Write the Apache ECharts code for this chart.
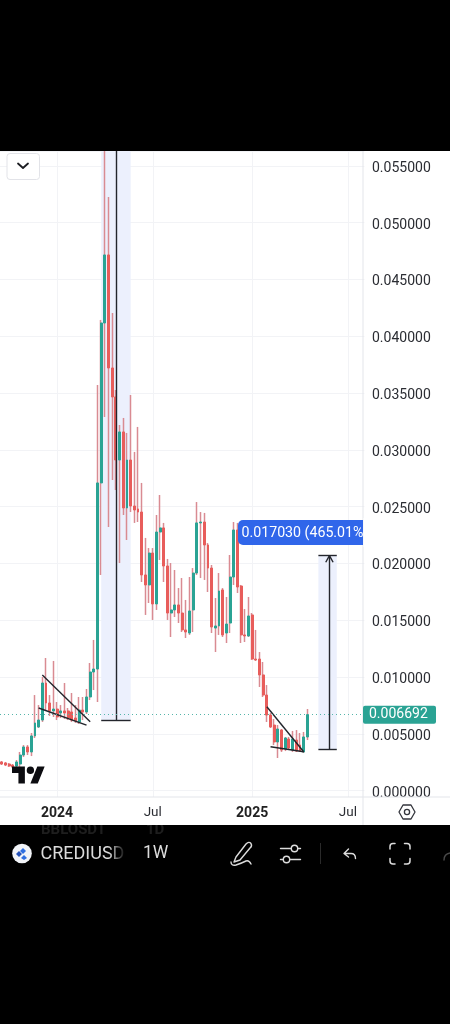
<!DOCTYPE html>
<html>
<head>
<meta charset="utf-8">
<style>
html,body{margin:0;padding:0;background:#000;}
#chart{width:450px;height:1024px;}
</style>
<script src="https://cdn.jsdelivr.net/npm/echarts@6/dist/echarts.min.js"></script>
</head>
<body>
<div id="chart"></div>
<script>
// CREDIUSD weekly candles, first bar 2023-09-18
const opens = [.00253,.00244,.00235,.00226,.00217,.00235,.00314,.00385,.00341,.00482,.00561,.00622,.00948,.00772,.00702,.00719,.00684,.00702,.00702,.00693,.00640,.00605,.00710,.00693,.00825,.01045,.01071,.02709,.04117,.04716,.03721,.03466,.02911,.03158,.02489,.02911,.02506,.02480,.02453,.01899,.01811,.02092,.01644,.02277,.02313,.01978,.01564,.01591,.01635,.01564,.01415,.01388,.01591,.01916,.02357,.02365,.02163,.01960,.01432,.01450,.01767,.01388,.01476,.01881,.02295,.01802,.01371,.01362,.01547,.01159,.01159,.01019,.00842,.00666,.00578,.00429,.00534,.00367,.00455,.00358,.00446,.00402,.00341,.00473];
const closes = [.00235,.00226,.00217,.00209,.00253,.00314,.00385,.00341,.00482,.00596,.00622,.00948,.00772,.00702,.00719,.00649,.00702,.00684,.00640,.00622,.00614,.00710,.00693,.00825,.01045,.01071,.02709,.04117,.04716,.03721,.03466,.02911,.03158,.02489,.02911,.02506,.02471,.02453,.01899,.01811,.02092,.01644,.02277,.02313,.01978,.01564,.01591,.01635,.01564,.01415,.01397,.01582,.01916,.02357,.02365,.02163,.01960,.01441,.01450,.01758,.01371,.01467,.01881,.02295,.01793,.01371,.01362,.01538,.01159,.01151,.01019,.00842,.00666,.00561,.00429,.00543,.00358,.00464,.00376,.00455,.00349,.00349,.00473,.006692];
const highs = [.00261,.00253,.00244,.00235,.00270,.00341,.00402,.00402,.00508,.00842,.00754,.01001,.01168,.00842,.01142,.00781,.00754,.00948,.00728,.00860,.00754,.00825,.00825,.00895,.01124,.01327,.03571,.04144,.05631,.05226,.04205,.03527,.03219,.03281,.03149,.03483,.02982,.03202,.02709,.02225,.02136,.02136,.02427,.02603,.02357,.02040,.02004,.01943,.01784,.01872,.01679,.01881,.01960,.02541,.02453,.02445,.02180,.01987,.01696,.01916,.01784,.01705,.02075,.02365,.02357,.01811,.01599,.01705,.01564,.01415,.01221,.01133,.00930,.00684,.00631,.00578,.00543,.00473,.00473,.00526,.00534,.00508,.00517,.00719];
const lows = [.00226,.00217,.00209,.00200,.00200,.00200,.00297,.00314,.00305,.00464,.00552,.00605,.00710,.00658,.00649,.00622,.00640,.00631,.00622,.00605,.00596,.00587,.00622,.00675,.00798,.00886,.00781,.01899,.03290,.02321,.02735,.02647,.02004,.02427,.02207,.02453,.02357,.02365,.01837,.01547,.01652,.01503,.01591,.02031,.01837,.01503,.01353,.01529,.01476,.01397,.01344,.01371,.01397,.01899,.01872,.01855,.01749,.01388,.01221,.01371,.01353,.01300,.01388,.01811,.01740,.01300,.01309,.01353,.01151,.01142,.00913,.00825,.00605,.00552,.00402,.00288,.00341,.00349,.00358,.00341,.00341,.00341,.00332,.00446];

const lastPrice = 0.006692;
const timeTicks = {'2024-01-01':'2024','2024-07-01':'Jul','2025-01-06':'2025','2025-07-07':'Jul'};
const yearTicks = ['2024','2025'];

// drawing tools, each [fromBar, fromPrice, toBar, toPrice]
const trendLines = [
  [11,.01018,24,.00607],
  [10,.00728,23,.00578],
  [72,.00739,82,.00343],
  [73,.00387,82,.00343]
];
// price ranges: [leftBar, rightBar, lowPrice, highPrice]
const riseRange = [86,91,.003662,.020692];
const priorRange = [27,35,.00622,.05631];
const rangeCentreBars = [89,31];
const rangeText = '0.017030 (465.01%)';

const barWeek = 7*24*3600*1000;
const categories = [];
for (let i = 0; i < 99; i++) {
  categories.push(new Date(Date.UTC(2023,8,18)+i*barWeek).toISOString().slice(0,10));
}
const isTick = (i, v) => Object.prototype.hasOwnProperty.call(timeTicks, v);

const UP = '#2aa394', DOWN = '#e85d5b', WICK = '#d98b92', INK = '#23252c', RULE = '#f2f3f6';
const FONT = 'Roboto, sans-serif';

const segment = (a,b,c,d) => [{coord:[a,b]},{coord:[c,d]}];
const toolLines = trendLines.map(t => segment(t[0],t[1],t[2],t[3])).concat([
  segment(riseRange[0],riseRange[2],riseRange[1],riseRange[2]),
  segment(riseRange[0],riseRange[3],riseRange[1],riseRange[3]),
  segment(rangeCentreBars[0],riseRange[2],rangeCentreBars[0],riseRange[3]),
  segment(rangeCentreBars[0]-1,riseRange[3]-.00058,rangeCentreBars[0],riseRange[3]),
  segment(rangeCentreBars[0]+1,riseRange[3]-.00058,rangeCentreBars[0],riseRange[3]),
  segment(priorRange[0],priorRange[2],priorRange[1],priorRange[2]),
  segment(rangeCentreBars[1],priorRange[2],rangeCentreBars[1],priorRange[3])
]);

// vector icons are registered as named shapes for the graphic component
let shapeCount = 0;
const svgShape = d => {
  const name = 'glyph' + (shapeCount++);
  echarts.graphic.registerShape(name, echarts.graphic.extendPath(d, {}));
  return name;
};

const BAR_INK = '#dcdcdc';
const stroke = (d, color, w, z) => ({type:svgShape(d), silent:true, z:z||20, shape:{},
  style:{fill:'none', stroke:color, lineWidth:w, lineCap:'round', lineJoin:'round'}});
const label = (x,y,text,size,color,weight,z) => ({type:'text', silent:true, z:z||20, x, y,
  style:{text, fill:color, font:(weight||'normal')+' '+size+'px '+FONT, verticalAlign:'middle'}});

const chrome = [
  // white chart panel on the black phone screen
  {type:'rect', silent:true, z:-10, shape:{x:0,y:151,width:450,height:674}, style:{fill:'#fff'}},
  // previous symbol row sliding out under the panel
  label(41,830,'BBLOSDT',15,'#1e1e1e','bold',-11),
  label(146,830,'1D',15,'#1e1e1e','bold',-11),
  // axis frame
  {type:'line', silent:true, z:1, shape:{x1:0,y1:797,x2:450,y2:797}, style:{stroke:'#e3e5ea',lineWidth:1}},
  {type:'line', silent:true, z:1, shape:{x1:363,y1:151,x2:363,y2:825}, style:{stroke:'#e3e5ea',lineWidth:1}},
  // collapse button
  {type:'rect', silent:true, z:20, shape:{x:7,y:153.5,width:32.5,height:26,r:3}, style:{fill:'#fff',stroke:'#e2e3e8',lineWidth:1}},
  stroke('M18 163.5 L23 168 L28 163.5','#1c1d22',1.8),
  // chart provider mark
  {type:svgShape('M14 22H7V11H0V4h14v18zM28 22h-8l7.5-18h8L28 22zM24 8a4 4 0 1 1-8 0a4 4 0 1 1 8 0z'),
    silent:true, z:20, x:12, y:762.6, scaleX:.92, scaleY:.95, shape:{}, style:{fill:'#0c0c10'}},
  // range readout, cut off by the price scale
  {type:'rect', silent:true, z:30, shape:{x:238,y:520,width:125,height:25,r:[5,0,0,5]}, style:{fill:'#3066ea'}},
  label(241.5,533,rangeText,14.2,'#fff','normal',31),
  {type:'rect', silent:true, z:32, shape:{x:363.5,y:518,width:86.5,height:29}, style:{fill:'#fff'}},
  // settings hexagon
  stroke('M399 812 L403 805 L411 805 L415 812 L411 819 L403 819 Z','#33353c',1.3),
  {type:'circle', silent:true, z:20, shape:{cx:407,cy:812,r:2.6}, style:{fill:'none',stroke:'#33353c',lineWidth:1.3}},
  // symbol bar
  {type:'circle', silent:true, z:20, shape:{cx:22,cy:853.5,r:9.8}, style:{fill:'#f2f4f8'}},
  {type:'polygon', silent:true, z:21, shape:{points:[[23,848],[26,851],[23,854],[20,851]]}, style:{fill:'#2f6fe0'}},
  {type:'polygon', silent:true, z:21, shape:{points:[[19,851],[22,854],[19,857],[16,854]]}, style:{fill:'#2451b8'}},
  {type:'polygon', silent:true, z:21, shape:{points:[[24,855],[27,858],[24,860],[21,858]]}, style:{fill:'#2f6fe0'}},
  label(40.5,854,'CREDIUSD',18,BAR_INK),
  {type:'rect', silent:true, z:22, shape:{x:108,y:842,width:20,height:24},
    style:{fill:{type:'linear',x:0,y:0,x2:1,y2:0,colorStops:[{offset:0,color:'rgba(0,0,0,0)'},{offset:.9,color:'#000'}]}}},
  label(143,854,'1W',17.5,BAR_INK),
  // drawing pen
  stroke('M236 857 L246 844 Q249 841 251 843.5 Q252.5 846 250 848 L240 860 L234 862 Z M231 862 Q231 866 236 865 Q242 863 246 861 Q249 860 251 864',BAR_INK,1.4),
  // indicator sliders
  stroke('M280.5 848.5 H291 M298 848.5 H300.5 M280.5 859.5 H283 M290 859.5 H300.5',BAR_INK,1.4),
  {type:'circle', silent:true, z:20, shape:{cx:294.5,cy:848.5,r:3.2}, style:{fill:'none',stroke:BAR_INK,lineWidth:1.4}},
  {type:'circle', silent:true, z:20, shape:{cx:286.5,cy:859.5,r:3.2}, style:{fill:'none',stroke:BAR_INK,lineWidth:1.4}},
  {type:'line', silent:true, z:20, shape:{x1:320.5,y1:843,x2:320.5,y2:864}, style:{stroke:'#2a2a2a',lineWidth:1}},
  // undo
  stroke('M348.5 849 L344 853.5 L348.5 857 M344 853.5 H351 Q355.5 853.5 355.5 858.5',BAR_INK,1.4),
  // fullscreen corners
  stroke('M390 849 V846.5 Q390 843.5 393 843.5 H395 M404.5 843.5 H407 Q410 843.5 410 846.5 V849 M410 858.5 V861 Q410 864 407 864 H404.5 M395 864 H393 Q390 864 390 861 V858.5',BAR_INK,1.5),
  stroke('M444 860 Q444 854 450 853','#4a4a4a',1.4)
];

const chart = echarts.init(document.getElementById('chart'), null, {renderer:'canvas'});
chart.setOption({
  animation:false,
  backgroundColor:'#000',
  grid:[
    {left:-0.9, top:151, width:365.3, height:639.7},
    // carries the vertical grid lines down to the time axis
    {left:-0.9, top:790.7, width:365.3, height:6.3}
  ],
  xAxis:[
    {type:'category', data:categories, offset:6.3, boundaryGap:true,
      axisLine:{show:false}, axisTick:{show:false},
      axisLabel:{interval:isTick, margin:9, hideOverlap:false, fontFamily:FONT, fontSize:13.5, color:'#2b2d33',
        formatter:v => { const t = timeTicks[v] || ''; return yearTicks.includes(t) ? '{y|'+t+'}' : t; },
        rich:{y:{fontWeight:'bold', fontSize:14, color:'#222', fontFamily:FONT}}},
      splitLine:{show:true, interval:isTick, alignWithLabel:true, lineStyle:{color:RULE,width:1}}},
    {type:'category', gridIndex:1, data:categories, boundaryGap:true,
      axisLine:{show:false}, axisTick:{show:false}, axisLabel:{show:false},
      splitLine:{show:true, interval:isTick, alignWithLabel:true, lineStyle:{color:RULE,width:1}}}
  ],
  yAxis:[
    {type:'value', position:'right', offset:-1.4, min:0, max:0.05631, interval:0.005,
      axisLine:{show:false}, axisTick:{show:false},
      axisLabel:{margin:9, showMaxLabel:false,
        formatter:v => '{p|' + v.toFixed(6) + '}',
        rich:{p:{fontFamily:FONT, fontSize:14, color:'#2b2d33', padding:[5,0,0,0]}}},
      splitLine:{lineStyle:{color:RULE,width:1}}},
    {type:'value', gridIndex:1, min:0, max:1, show:false, splitLine:{show:false}}
  ],
  graphic:chrome,
  series:[
    {type:'candlestick', name:'wicks', barWidth:1, silent:true,
      itemStyle:{color:WICK, color0:WICK, borderColor:WICK, borderColor0:WICK, borderWidth:1.5},
      data:opens.map((o,i) => [o,closes[i],lows[i],highs[i]])},
    {type:'candlestick', name:'bodies', barWidth:2.4, silent:true,
      itemStyle:{color:UP, color0:DOWN, borderColor:UP, borderColor0:DOWN, borderWidth:1},
      data:opens.map((o,i) => [o,closes[i],Math.min(o,closes[i]),Math.max(o,closes[i])]),
      markArea:{silent:true, itemStyle:{color:'#ecf0fd'},
        data:[
          [{coord:[priorRange[0],priorRange[3]]},{coord:[priorRange[1],priorRange[2]]}],
          [{coord:[riseRange[0],riseRange[3]]},{coord:[riseRange[1],riseRange[2]]}]
        ]},
      markLine:{silent:true, symbol:'none', animation:false, precision:6,
        lineStyle:{color:INK,type:'solid',width:1.4}, label:{show:false},
        data:toolLines.concat([{
          yAxis:lastPrice, symbol:'none',
          lineStyle:{color:'#55b5aa',type:[1,3],width:1},
          label:{show:true, position:'end', distance:-1.4, formatter:lastPrice.toFixed(6), color:'#fff',
            backgroundColor:'#2aa394', borderRadius:2, padding:[4,5,0,6],
            fontFamily:FONT, fontSize:14, width:62, align:'left'}
        }])}
    }
  ]
});
</script>
</body>
</html>
